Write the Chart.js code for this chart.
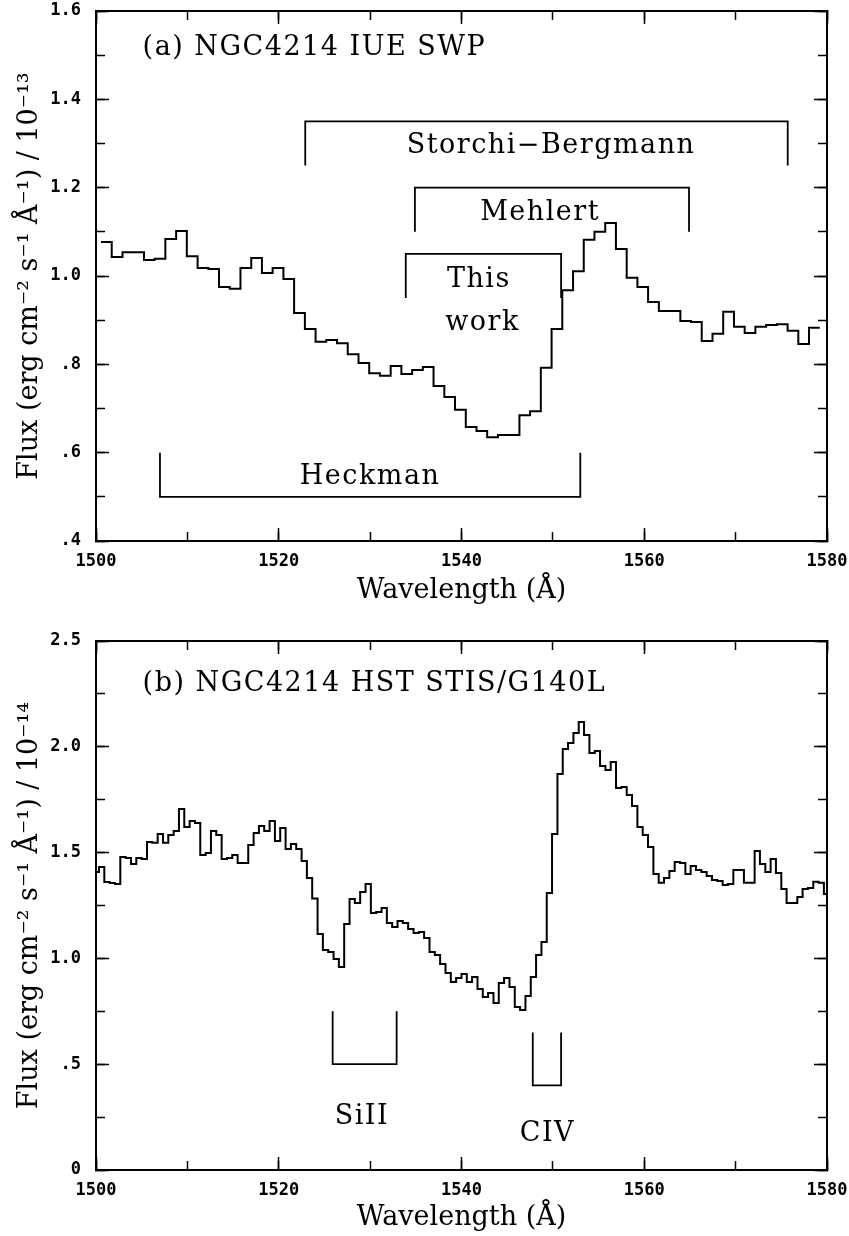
<!DOCTYPE html>
<html lang="en">
<head>
<meta charset="UTF-8">
<title>NGC4214 UV spectra</title>
<script src="https://cdn.jsdelivr.net/npm/chart.js"></script>
<style>
  html, body { margin: 0; padding: 0; background: #fff; }
  #wrap { position: relative; width: 849px; height: 1236px; }
  canvas { position: absolute; left: 0; }
  #chartA { top: 0; }
  #chartB { top: 610px; }
</style>
</head>
<body>
<div id="wrap">
  <canvas id="chartA" width="849" height="610"></canvas>
  <canvas id="chartB" width="849" height="626"></canvas>
</div>
<script>
// ---- panel (a): IUE SWP, bin left edges (last entry closes the final bin) ----
const waveA = [
  1500.55, 1501.72, 1502.90, 1504.07, 1505.25, 1506.42, 1507.59, 1508.77, 1509.94, 1511.12,
  1512.29, 1513.46, 1514.64, 1515.81, 1516.99, 1518.16, 1519.33, 1520.51, 1521.68, 1522.86,
  1524.03, 1525.20, 1526.38, 1527.55, 1528.73, 1529.90, 1531.07, 1532.25, 1533.42, 1534.60,
  1535.77, 1536.94, 1538.12, 1539.29, 1540.47, 1541.64, 1542.81, 1543.99, 1545.16, 1546.34,
  1547.51, 1548.68, 1549.86, 1551.03, 1552.21, 1553.38, 1554.55, 1555.73, 1556.90, 1558.08,
  1559.25, 1560.42, 1561.60, 1562.77, 1563.95, 1565.12, 1566.29, 1567.47, 1568.64, 1569.82,
  1570.99, 1572.16, 1573.34, 1574.51, 1575.69, 1576.86, 1578.03, 1579.21
];
const fluxA = [
  1.077, 1.043, 1.054, 1.054, 1.036, 1.039, 1.084, 1.102, 1.045, 1.018,
  1.016, 0.975, 0.971, 1.018, 1.041, 1.007, 1.018, 0.993, 0.916, 0.880,
  0.851, 0.855, 0.848, 0.823, 0.803, 0.780, 0.774, 0.796, 0.778, 0.787,
  0.794, 0.751, 0.726, 0.697, 0.658, 0.649, 0.635, 0.640, 0.640, 0.685,
  0.694, 0.792, 0.880, 0.968, 1.011, 1.082, 1.100, 1.120, 1.061, 0.996,
  0.975, 0.941, 0.921, 0.921, 0.898, 0.896, 0.853, 0.869, 0.919, 0.885,
  0.871, 0.885, 0.889, 0.891, 0.876, 0.846, 0.883
];

// ---- panel (b): HST STIS/G140L ----
const waveB = [
  1500.00,
  1500.33, 1500.91, 1501.50, 1502.08, 1502.66, 1503.25, 1503.83, 1504.41, 1505.00, 1505.58, 1506.16, 1506.75,
  1507.33, 1507.91, 1508.50, 1509.08, 1509.66, 1510.25, 1510.83, 1511.41, 1512.00, 1512.58, 1513.16, 1513.75,
  1514.33, 1514.91, 1515.50, 1516.08, 1516.66, 1517.25, 1517.83, 1518.41, 1519.00, 1519.58, 1520.16, 1520.75,
  1521.33, 1521.91, 1522.50, 1523.08, 1523.66, 1524.25, 1524.83, 1525.41, 1526.00, 1526.58, 1527.16, 1527.75,
  1528.33, 1528.91, 1529.50, 1530.08, 1530.66, 1531.25, 1531.83, 1532.41, 1533.00, 1533.58, 1534.16, 1534.75,
  1535.33, 1535.91, 1536.50, 1537.08, 1537.66, 1538.25, 1538.83, 1539.41, 1540.00, 1540.58, 1541.16, 1541.75,
  1542.33, 1542.91, 1543.50, 1544.08, 1544.66, 1545.25, 1545.83, 1546.41, 1547.00, 1547.58, 1548.16, 1548.75,
  1549.33, 1549.91, 1550.50, 1551.08, 1551.66, 1552.25, 1552.83, 1553.41, 1554.00, 1554.58, 1555.16, 1555.75,
  1556.33, 1556.91, 1557.50, 1558.08, 1558.66, 1559.25, 1559.83, 1560.41, 1561.00, 1561.58, 1562.16, 1562.75,
  1563.33, 1563.91, 1564.50, 1565.08, 1565.66, 1566.25, 1566.83, 1567.41, 1568.00, 1568.58, 1569.16, 1569.75,
  1570.33, 1570.91, 1571.50, 1572.08, 1572.66, 1573.25, 1573.83, 1574.41, 1575.00, 1575.58, 1576.16, 1576.75,
  1577.33, 1577.91, 1578.50, 1579.08, 1579.66,
  1580.00
];
const fluxB = [
  1.408,
  1.432, 1.361, 1.356, 1.352, 1.479, 1.474, 1.446, 1.474, 1.470, 1.550,
  1.547, 1.588, 1.547, 1.583, 1.602, 1.706, 1.621, 1.649, 1.640, 1.489,
  1.498, 1.602, 1.583, 1.470, 1.474, 1.489, 1.451, 1.451, 1.536, 1.593,
  1.626, 1.602, 1.649, 1.555, 1.616, 1.517, 1.541, 1.517, 1.460, 1.380,
  1.283, 1.115, 1.040, 1.030, 0.997, 0.959, 1.163, 1.281, 1.262, 1.314,
  1.352, 1.215, 1.219, 1.238, 1.167, 1.148, 1.177, 1.167, 1.139, 1.120,
  1.125, 1.096, 1.030, 1.016, 0.974, 0.931, 0.889, 0.907, 0.926, 0.889,
  0.912, 0.855, 0.818, 0.837, 0.789, 0.884, 0.907, 0.865, 0.770, 0.756,
  0.822, 0.912, 1.016, 1.078, 1.309, 1.588, 1.871, 1.990, 2.018, 2.065,
  2.117, 2.056, 1.971, 1.980, 1.909, 1.890, 1.928, 1.805, 1.810, 1.772,
  1.720, 1.621, 1.583, 1.527, 1.399, 1.357, 1.380, 1.413, 1.456, 1.451,
  1.399, 1.437, 1.418, 1.408, 1.390, 1.371, 1.366, 1.347, 1.352, 1.418,
  1.418, 1.357, 1.357, 1.508, 1.446, 1.408, 1.470, 1.404, 1.328, 1.262,
  1.262, 1.290, 1.328, 1.333, 1.362, 1.357, 1.304
];

// wavelength windows marked with brackets (bar level, end of the legs)
const winFromA = [1522.9, 1534.9, 1533.9, 1507.0];
const winToA   = [1575.7, 1564.9, 1550.9, 1553.0];
const winBarA  = [1.35, 1.20, 1.05, 0.50];
const winLegA  = [1.25, 1.10, 0.95, 0.60];

const winFromB = [1525.9, 1547.8];
const winToB   = [1532.9, 1550.9];
const winBarB  = [0.50, 0.40];
const winLegB  = [0.75, 0.65];

const textA = [
  { text: '(a) NGC4214 IUE SWP', x: 1505.1, y: 1.500, align: 'left' },
  { text: 'Storchi\u2212Bergmann', x: 1549.8, y: 1.279 },
  { text: 'Mehlert', x: 1548.6, y: 1.127 },
  { text: 'This', x: 1541.9, y: 0.975 },
  { text: 'work', x: 1542.3, y: 0.878 },
  { text: 'Heckman', x: 1530.0, y: 0.529 }
];
const textB = [
  { text: '(b) NGC4214 HST STIS/G140L', x: 1505.1, y: 2.264, align: 'left' },
  { text: 'SiII', x: 1529.1, y: 0.217 },
  { text: 'CIV', x: 1549.4, y: 0.137 }
];

const TICK_FONT = { family: 'DejaVu Sans Mono', size: 17, weight: 'bold' };
const TITLE_FONT = { family: 'DejaVu Serif', size: 27 };

function stepData(wave, flux) {
  // repeat the last value on the closing edge
  return wave.map((w, i) => ({ x: w, y: flux[Math.min(i, flux.length - 1)] }));
}

function bracketSets(from, to, bar, leg) {
  return from.map((f, i) => ({
    data: [{ x: f, y: leg[i] }, { x: f, y: bar[i] }, { x: to[i], y: bar[i] }, { x: to[i], y: leg[i] }],
    borderColor: '#000', borderWidth: 1.8, pointRadius: 0, fill: false,
    xAxisID: 'x', yAxisID: 'y'
  }));
}

function textLayer(items) {
  return {
    id: 'textLayer',
    afterDatasetsDraw(chart) {
      const { ctx, scales: { x, y } } = chart;
      ctx.save();
      ctx.fillStyle = '#000';
      ctx.font = '27px "DejaVu Serif"';
      ctx.letterSpacing = '1.5px';
      ctx.textBaseline = 'alphabetic';
      items.forEach(t => {
        ctx.textAlign = t.align || 'center';
        ctx.fillText(t.text, x.getPixelForValue(t.x), y.getPixelForValue(t.y));
      });
      ctx.restore();
    }
  };
}

function fmtTick(v) {
  if (Math.abs(v) < 1e-9) return '0';
  const s = v.toFixed(1);
  return s.startsWith('0.') ? s.slice(1) : s;
}

// labels may hang over the plot edges; keep them from shrinking the frame
function noPad(scale) {
  scale.paddingLeft = 0; scale.paddingRight = 0;
  scale.paddingTop = 0; scale.paddingBottom = 0;
}

function frameAxis(position, min, max, step, len) {
  return {
    type: 'linear', position, min, max, weight: 0,
    ticks: { stepSize: step, display: false },
    grid: { drawOnChartArea: false, drawTicks: true, tickLength: -len, tickWidth: 1.5, tickColor: '#000' },
    border: { display: true, color: '#000', width: 2 },
    afterFit(scale) {
      if (scale.isHorizontal()) scale.height = 0; else scale.width = 0;
      noPad(scale);
    }
  };
}

function buildScales(p) {
  return {
    x: {
      type: 'linear', position: 'bottom', min: 1500, max: 1580, weight: 1,
      ticks: { stepSize: 20, padding: 23, color: '#000', font: TICK_FONT, maxRotation: 0, autoSkip: false,
               callback: v => String(v) },
      grid: { drawOnChartArea: false, drawTicks: true, tickLength: -13, tickWidth: 1.5, tickColor: '#000' },
      border: { display: true, color: '#000', width: 2 },
      title: { display: true, text: 'Wavelength (\u00c5)', color: '#000', font: TITLE_FONT,
               padding: { top: 0, bottom: p.xTitlePad } },
      afterFit(scale) { scale.height = p.bottomH; noPad(scale); }
    },
    xMinor: frameAxis('bottom', 1500, 1580, 10, 9),
    xTop: frameAxis('top', 1500, 1580, 20, 13),
    xTopMinor: frameAxis('top', 1500, 1580, 10, 9),
    y: {
      type: 'linear', position: 'left', min: p.yMin, max: p.yMax, weight: 1,
      ticks: { stepSize: p.yMajor, padding: 28, color: '#000', font: TICK_FONT, autoSkip: false,
               callback: fmtTick },
      grid: { drawOnChartArea: false, drawTicks: true, tickLength: -13, tickWidth: 1.5, tickColor: '#000' },
      border: { display: true, color: '#000', width: 2 },
      title: { display: true, text: p.yTitle, color: '#000', font: TITLE_FONT, padding: { top: 14, bottom: 0 } },
      afterFit(scale) { scale.width = 96; noPad(scale); }
    },
    yMinor: frameAxis('left', p.yMin, p.yMax, p.yMinor, 9),
    yRight: frameAxis('right', p.yMin, p.yMax, p.yMajor, 13),
    yRightMinor: frameAxis('right', p.yMin, p.yMax, p.yMinor, 9)
  };
}

function makeChart(id, wave, flux, brackets, texts, p) {
  return new Chart(document.getElementById(id), {
    type: 'line',
    data: {
      datasets: [{
        data: stepData(wave, flux),
        stepped: true,
        borderColor: '#000', borderWidth: 2, pointRadius: 0, fill: false,
        xAxisID: 'x', yAxisID: 'y'
      }].concat(brackets)
    },
    options: {
      responsive: false,
      animation: false,
      layout: { padding: { left: 0, right: 22, top: p.padTop, bottom: 0 } },
      plugins: { legend: { display: false }, tooltip: { enabled: false } },
      scales: buildScales(p)
    },
    plugins: [textLayer(texts)]
  });
}

makeChart('chartA', waveA, fluxA, bracketSets(winFromA, winToA, winBarA, winLegA), textA, {
  yMin: 0.4, yMax: 1.6, yMajor: 0.2, yMinor: 0.1,
  yTitle: 'Flux (erg cm\u207b\u00b2 s\u207b\u00b9 \u00c5\u207b\u00b9) / 10\u207b\u00b9\u00b3',
  padTop: 11, bottomH: 69, xTitlePad: 3
});

makeChart('chartB', waveB, fluxB, bracketSets(winFromB, winToB, winBarB, winLegB), textB, {
  yMin: 0, yMax: 2.5, yMajor: 0.5, yMinor: 0.25,
  yTitle: 'Flux (erg cm\u207b\u00b2 s\u207b\u00b9 \u00c5\u207b\u00b9) / 10\u207b\u00b9\u2074',
  padTop: 31, bottomH: 66, xTitlePad: 2
});
</script>
</body>
</html>
